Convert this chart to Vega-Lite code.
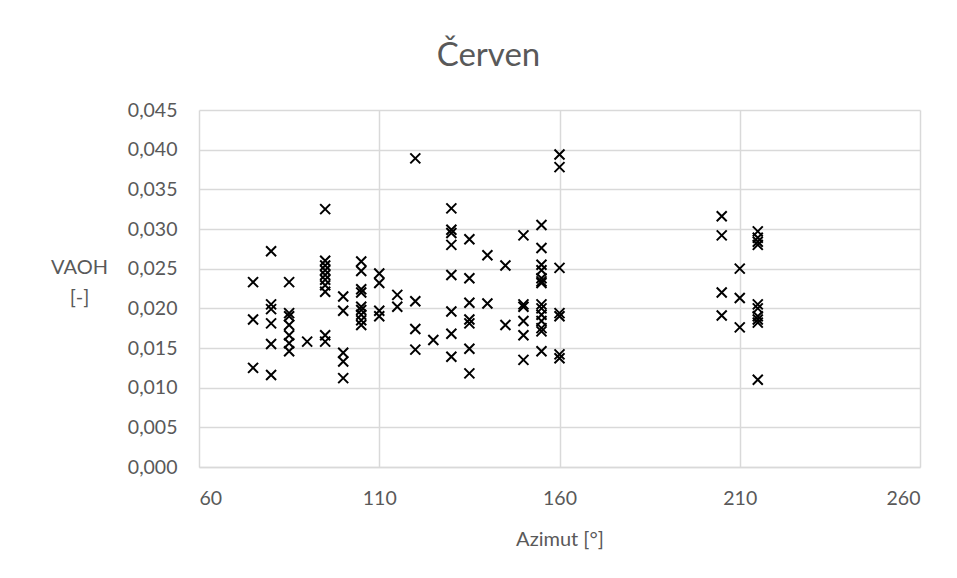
{
  "$schema": "https://vega.github.io/schema/vega-lite/v6.json",
  "autosize": {"type": "none"},
  "width": 721,
  "height": 357,
  "padding": {"left": 199, "top": 110, "right": 37, "bottom": 111},
  "background": "white",
  "title": {
    "text": "Červen",
    "fontSize": 33,
    "font": "Lato",
    "fontWeight": "normal",
    "color": "#595959",
    "anchor": "middle",
    "dx": -71,
    "offset": 27
  },
  "data": {
    "values": [
      {"az": 75, "v": 0.0233}, {"az": 75, "v": 0.0186}, {"az": 75, "v": 0.0125},
      {"az": 80, "v": 0.0272}, {"az": 80, "v": 0.0205}, {"az": 80, "v": 0.0199}, {"az": 80, "v": 0.0181}, {"az": 80, "v": 0.0155}, {"az": 80, "v": 0.0116},
      {"az": 85, "v": 0.0233}, {"az": 85, "v": 0.0194}, {"az": 85, "v": 0.0190}, {"az": 85, "v": 0.0179}, {"az": 85, "v": 0.0166}, {"az": 85, "v": 0.0156}, {"az": 85, "v": 0.0146},
      {"az": 90, "v": 0.0158},
      {"az": 95, "v": 0.0325}, {"az": 95, "v": 0.0260}, {"az": 95, "v": 0.0254}, {"az": 95, "v": 0.0248}, {"az": 95, "v": 0.0242}, {"az": 95, "v": 0.0236}, {"az": 95, "v": 0.0229}, {"az": 95, "v": 0.0221}, {"az": 95, "v": 0.0166}, {"az": 95, "v": 0.0158},
      {"az": 100, "v": 0.0215}, {"az": 100, "v": 0.0197}, {"az": 100, "v": 0.0144}, {"az": 100, "v": 0.0133}, {"az": 100, "v": 0.0112},
      {"az": 105, "v": 0.0259}, {"az": 105, "v": 0.0247}, {"az": 105, "v": 0.0224}, {"az": 105, "v": 0.0220}, {"az": 105, "v": 0.0202}, {"az": 105, "v": 0.0198}, {"az": 105, "v": 0.0192}, {"az": 105, "v": 0.0185}, {"az": 105, "v": 0.0179},
      {"az": 110, "v": 0.0244}, {"az": 110, "v": 0.0232}, {"az": 110, "v": 0.0197}, {"az": 110, "v": 0.0190},
      {"az": 115, "v": 0.0217}, {"az": 115, "v": 0.0202},
      {"az": 120, "v": 0.0389}, {"az": 120, "v": 0.0209}, {"az": 120, "v": 0.0174}, {"az": 120, "v": 0.0148},
      {"az": 125, "v": 0.0160},
      {"az": 130, "v": 0.0326}, {"az": 130, "v": 0.0299}, {"az": 130, "v": 0.0295}, {"az": 130, "v": 0.0280}, {"az": 130, "v": 0.0242}, {"az": 130, "v": 0.0196}, {"az": 130, "v": 0.0168}, {"az": 130, "v": 0.0139},
      {"az": 135, "v": 0.0287}, {"az": 135, "v": 0.0238}, {"az": 135, "v": 0.0207}, {"az": 135, "v": 0.0186}, {"az": 135, "v": 0.0181}, {"az": 135, "v": 0.0149}, {"az": 135, "v": 0.0118},
      {"az": 140, "v": 0.0267}, {"az": 140, "v": 0.0206},
      {"az": 145, "v": 0.0254}, {"az": 145, "v": 0.0179},
      {"az": 150, "v": 0.0292}, {"az": 150, "v": 0.0205}, {"az": 150, "v": 0.0202}, {"az": 150, "v": 0.0184}, {"az": 150, "v": 0.0166}, {"az": 150, "v": 0.0135},
      {"az": 155, "v": 0.0305}, {"az": 155, "v": 0.0276}, {"az": 155, "v": 0.0255}, {"az": 155, "v": 0.0248}, {"az": 155, "v": 0.0238}, {"az": 155, "v": 0.0234}, {"az": 155, "v": 0.0232}, {"az": 155, "v": 0.0205}, {"az": 155, "v": 0.0200}, {"az": 155, "v": 0.0192}, {"az": 155, "v": 0.0184}, {"az": 155, "v": 0.0175}, {"az": 155, "v": 0.0171}, {"az": 155, "v": 0.0146},
      {"az": 160, "v": 0.0394}, {"az": 160, "v": 0.0378}, {"az": 160, "v": 0.0251}, {"az": 160, "v": 0.0194}, {"az": 160, "v": 0.0190}, {"az": 160, "v": 0.0142}, {"az": 160, "v": 0.0137},
      {"az": 205, "v": 0.0316}, {"az": 205, "v": 0.0292}, {"az": 205, "v": 0.0220}, {"az": 205, "v": 0.0191},
      {"az": 210, "v": 0.0250}, {"az": 210, "v": 0.0213}, {"az": 210, "v": 0.0176},
      {"az": 215, "v": 0.0297}, {"az": 215, "v": 0.0289}, {"az": 215, "v": 0.0284}, {"az": 215, "v": 0.0280}, {"az": 215, "v": 0.0205}, {"az": 215, "v": 0.0200}, {"az": 215, "v": 0.0190}, {"az": 215, "v": 0.0186}, {"az": 215, "v": 0.0182}, {"az": 215, "v": 0.0110}
    ]
  },
  "mark": {
    "type": "point",
    "shape": "M-1,-1L1,1M-1,1L1,-1",
    "size": 100,
    "filled": false,
    "stroke": "black",
    "strokeWidth": 2,
    "opacity": 1
  },
  "encoding": {
    "x": {
      "field": "az",
      "type": "quantitative",
      "scale": {"domain": [60, 260], "nice": false, "zero": false},
      "axis": {
        "values": [60, 110, 160, 210, 260],
        "title": "Azimut [°]",
        "titlePadding": 22,
        "labelPadding": 22
      }
    },
    "y": {
      "field": "v",
      "type": "quantitative",
      "scale": {"domain": [0, 0.045], "nice": false},
      "axis": {
        "values": [0, 0.005, 0.01, 0.015, 0.02, 0.025, 0.03, 0.035, 0.04, 0.045],
        "format": ".3f",
        "labelPadding": 22,
        "title": ["VAOH", "[-]"],
        "titleAngle": 0,
        "titleAlign": "center",
        "titleBaseline": "top",
        "titleX": -120,
        "titleY": 147,
        "titleLineHeight": 30
      }
    }
  },
  "config": {
    "locale": {"number": {"decimal": ",", "thousands": " ", "grouping": [3], "currency": ["", " Kč"]}},
    "view": {"stroke": null},
    "axis": {
      "domainColor": "#d9d9d9",
      "domainWidth": 1.5,
      "gridColor": "#d9d9d9",
      "gridWidth": 1.5,
      "ticks": false,
      "labelFont": "Lato",
      "labelFontSize": 19.5,
      "labelColor": "#595959",
      "titleFont": "Lato",
      "titleFontSize": 20,
      "titleFontWeight": "normal",
      "titleColor": "#595959"
    },
    "axisY": {"domain": false}
  }
}
